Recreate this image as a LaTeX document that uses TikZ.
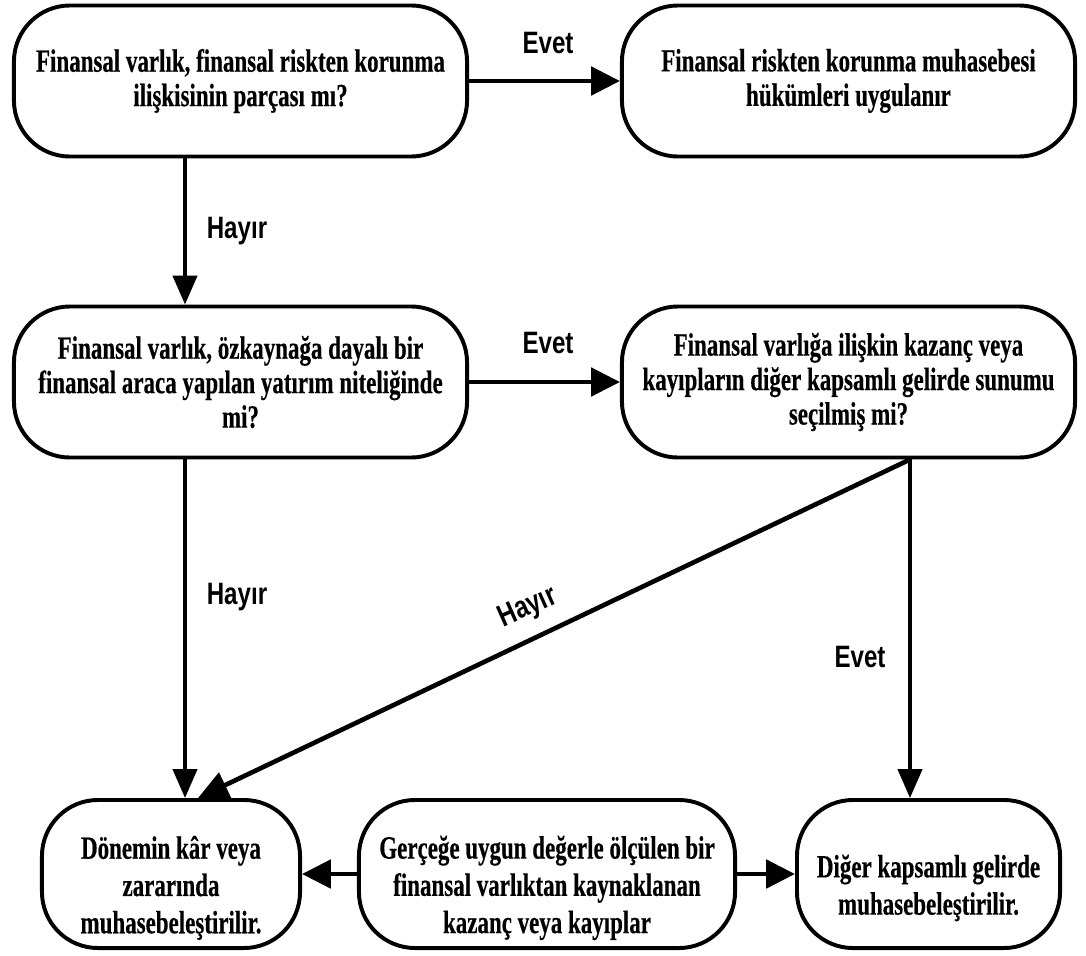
\documentclass[tikz,border=0pt]{standalone}
\usepackage{fontspec}
\usetikzlibrary{arrows.meta}
\newfontfamily\boxfont[FakeStretch=0.71,FakeBold=0.4]{Liberation Serif}
\newfontfamily\labfont[FakeStretch=0.78]{Liberation Sans}
% extra room above the first line, lowering the text in the bottom row
\newcommand\lowerstrut{\rule{0pt}{36pt}}
\begin{document}
\begin{tikzpicture}[x=0.025cm,y=-0.025cm,
  box/.style={draw, line width=2.8pt, rounded corners=1.4cm, align=center, inner sep=0pt,
    font=\boxfont\bfseries\fontsize{23}{24.5}\selectfont},
  low/.style={font=\boxfont\bfseries\fontsize{23}{26.5}\selectfont, minimum height=3.7cm},
  wide/.style={minimum width=11.325cm, minimum height=3.775cm},
  flow/.style={line width=3.5pt, -{Triangle[length=0.72cm,width=0.7cm]}},
  flowv/.style={line width=2.8pt, -{Triangle[length=0.72cm,width=0.6cm]}},
  flowd/.style={line width=3.3pt, -{Triangle[length=0.75cm,width=0.68cm]}},
  lab/.style={font=\labfont\bfseries\fontsize{22}{24}\selectfont, inner sep=0pt}
]
\useasboundingbox (0,0) rectangle (1086,955);

% decision and result boxes
\node[box, wide] (b1) at (240.5,81) {Finansal varlık, finansal riskten korunma\\ilişkisinin parçası mı?};
\node[box, wide] (b2) at (848.5,81) {Finansal riskten korunma muhasebesi\\hükümleri uygulanır};
\node[box, wide] (b3) at (240.5,382) {Finansal varlık, özkaynağa dayalı bir\\finansal araca yapılan yatırım niteliğinde\\mi?};
\node[box, wide] (b4) at (848.5,382) {Finansal varlığa ilişkin kazanç veya\\kayıpların diğer kapsamlı gelirde sunumu\\seçilmiş mi?};
\node[box, low, minimum width=6.45cm] (b5) at (171,874) {\lowerstrut Dönemin kâr veya\\zararında\\muhasebeleştirilir.};
\node[box, low, minimum width=9.4cm] (b6) at (547,874) {\lowerstrut Gerçeğe uygun değerle ölçülen bir\\finansal varlıktan kaynaklanan\\kazanç veya kayıplar};
\node[box, low, minimum width=6.575cm] (b7) at (928.5,874) {\lowerstrut Diğer kapsamlı gelirde\\muhasebeleştirilir.};

% columns of the vertical connectors
\coordinate (lx) at (185,0);
\coordinate (rx) at (910,0);
\coordinate (dx) at (198,0);

% connectors
\draw[flow] (b1) -- (b2);
\draw[flowv] (b1.south -| lx) -- (b3.north -| lx);
\draw[flow] (b3) -- (b4);
\draw[flowv] (b3.south -| lx) -- (b5.north -| lx);
\draw[flowd] (b4.south -| rx) -- (b5.north -| dx);
\draw[flowv] (b4.south -| rx) -- (b7.north -| rx);
\draw[flow] (b6) -- (b5);
\draw[flow] (b6) -- (b7);

% branch labels
\node[lab] (e1) at (548,43) {Evet};
\node[lab] (h1) at (237,231) {Hayır};
\node[lab] (e2) at (548,343) {Evet};
\node[lab] (h2) at (237,597) {Hayır};
\node[lab, rotate=24] (h3) at (528,608) {Hayır};
\node[lab] (e3) at (860,657) {Evet};
\end{tikzpicture}
\end{document}
